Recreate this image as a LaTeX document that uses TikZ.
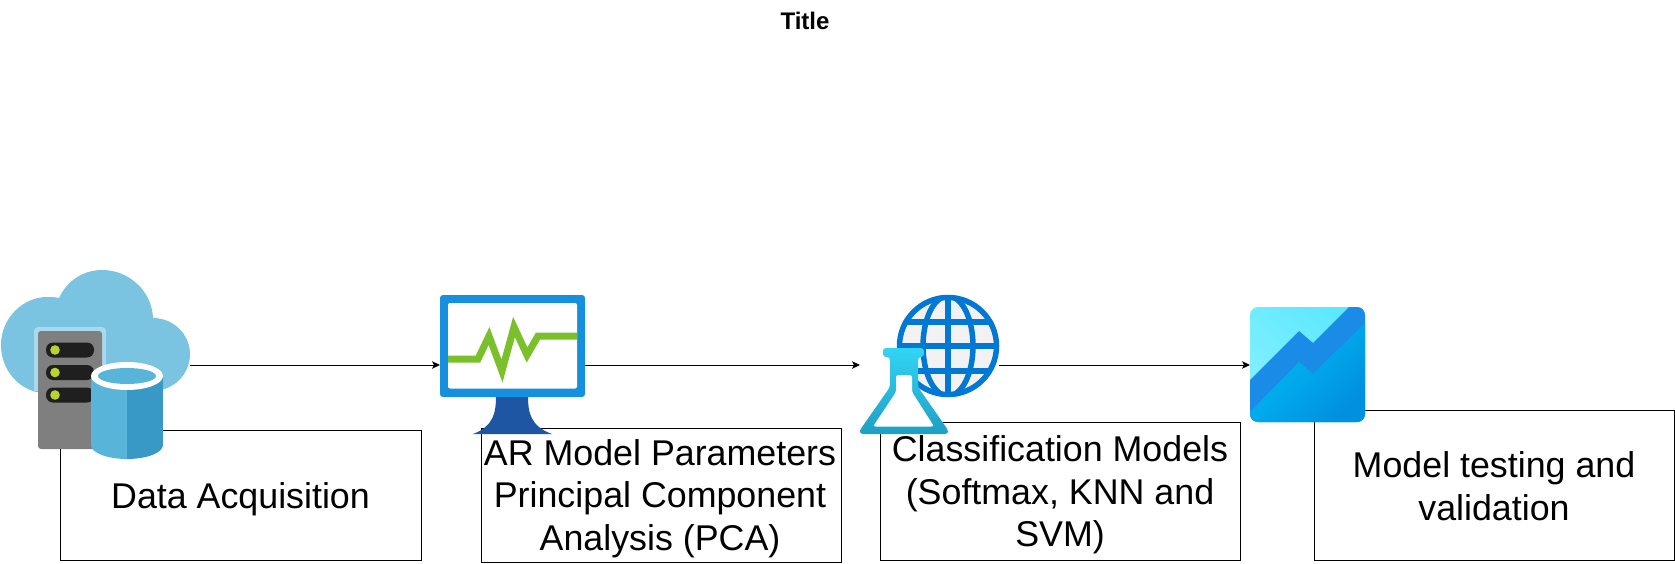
\documentclass[tikz,border=0pt]{standalone}
\usepackage{fontspec}
\setmainfont{Liberation Sans}
\usetikzlibrary{arrows.meta}
\definecolor{cloudc}{HTML}{7AC3E1}
\definecolor{cloudl}{HTML}{A9D9EE}
\definecolor{srv}{HTML}{7F7F7F}
\definecolor{slot}{HTML}{1F1F1F}
\definecolor{led}{HTML}{B8D432}
\definecolor{cyl}{HTML}{59B4D9}
\definecolor{cyld}{HTML}{3999C6}
\definecolor{mon}{HTML}{1490DF}
\definecolor{mond}{HTML}{1F56A3}
\definecolor{pulse}{HTML}{7AC02A}
\definecolor{globec}{HTML}{0078D4}
\definecolor{globel}{HTML}{F2F2F2}
\definecolor{flaskt}{HTML}{32D4F5}
\definecolor{flaskm}{HTML}{2BC4E3}
\definecolor{flaskb}{HTML}{1F9FC4}
\definecolor{chl}{HTML}{84F0FF}
\definecolor{chm}{HTML}{5CE8FF}
\definecolor{chd}{HTML}{1B8BE8}
\definecolor{chb}{HTML}{00BEF5}
\definecolor{chbd}{HTML}{0090E0}
\tikzset{
  x=1pt,y=-1pt,
  labelbox/.style={draw=black,line width=0.8pt,fill=white,inner sep=0pt},
  labeltext/.style={inner sep=0pt,align=center,font=\fontsize{35.8}{42.7}\selectfont},
  flow/.style={draw=black,line width=0.9pt,-{Stealth[length=8pt,width=7.5pt,inset=2pt]}},
  iconspot/.style={inner sep=0pt,outer sep=0pt}
}
\begin{document}
\begin{tikzpicture}
\useasboundingbox (0,0) rectangle (1675,564);
\node[font=\bfseries\fontsize{24}{28}\selectfont] (title) at (805,21) {Title};
% icon footprints, used as connector ends
\node[iconspot,minimum width=190pt,minimum height=190pt] (i1) at (95,365) {};
\node[iconspot,minimum width=145pt,minimum height=139pt] (i2) at (512.5,365) {};
\node[iconspot,minimum width=139pt,minimum height=139pt] (i3) at (929.5,365) {};
\node[iconspot,minimum width=116pt,minimum height=116pt] (i4) at (1308,365) {};
% boxes
\node[labelbox,minimum width=361pt,minimum height=130pt] (b1) at (240.5,495) {};
\node[labeltext] (t1) at ([yshift=-4pt]b1.center) {Data Acquisition};
\node[labelbox,minimum width=360pt,minimum height=134pt] (b2) at (661,495) {};
\node[labeltext] (t2) at ([yshift=-3.5pt,xshift=-1pt]b2.center) {AR Model Parameters\\Principal Component\\Analysis (PCA)};
\node[labelbox,minimum width=360pt,minimum height=138pt] (b3) at (1060,491) {};
\node[labeltext] (t3) at ([yshift=-4pt]b3.center) {Classification Models\\(Softmax, KNN and\\SVM)};
\node[labelbox,minimum width=360pt,minimum height=150pt] (b4) at (1494,485) {};
\node[labeltext] (t4) at ([yshift=-1.5pt]b4.center) {Model testing and\\validation};
% connectors
\draw[flow] (i1.east) -- (i2.west);
\draw[flow] (i2.east) -- (i3.west);
\draw[flow] (i3.east) -- (i4.west);
% icon 1: cloud, server, cylinder
\fill[cloudc] (36,392) .. controls (14,386) and (1,366) .. (1,345) .. controls (1,318) and (23,297) .. (47,297) .. controls (51,297) and (55,297) .. (59,298) .. controls (67,281) and (83,270) .. (102,270) .. controls (129,270) and (152,291) .. (153,318) .. controls (174,318) and (190,335) .. (190,354) .. controls (190,374) and (174,391) .. (152,391) -- cycle;
\begin{scope}
\clip (30,320) rectangle (110,390);
\fill[cloudl,rounded corners=4pt] (34,327) rectangle (106,420);
\end{scope}
\fill[srv,rounded corners=3pt] (38,331) -- (102,331) -- (102,449) -- (38,449) -- cycle;
\foreach \yy in {350,372.5,395}{
  \fill[slot,rounded corners=7pt] (46,\yy-7.5) rectangle (94,\yy+7.5);
  \fill[led] (55,\yy) circle[radius=4.8pt];
}
\fill[cyl] (91,376) rectangle (127,445);
\fill[cyld] (127,376) rectangle (163,445);
\begin{scope}
\clip (91,440) rectangle (127,462);
\fill[cyl] (127,445) ellipse[x radius=36pt,y radius=14pt];
\end{scope}
\begin{scope}
\clip (127,440) rectangle (163,462);
\fill[cyld] (127,445) ellipse[x radius=36pt,y radius=14pt];
\end{scope}
\fill[white] (127,376) ellipse[x radius=36pt,y radius=14pt];
\fill[cyl] (127,376) ellipse[x radius=29pt,y radius=8pt];
% icon 2: monitor
\fill[mond] (496,396) -- (528,396) .. controls (528,412) and (530,426) .. (552,434) -- (473,434) .. controls (494,426) and (496,412) .. (496,396) -- cycle;
\fill[mon,rounded corners=3pt] (440,295) rectangle (585,397);
\fill[white,rounded corners=2pt] (448,303) rectangle (577,388.5);
\draw[pulse,line width=7pt,line join=miter] (448,359) -- (478,359) -- (489,336) -- (502,371) -- (514,327) -- (527,355) -- (538,336) -- (577,336);
% icon 3: globe and flask
\fill[globel] (948,346) circle[radius=50pt];
\begin{scope}
\clip (948,346) circle[radius=51pt];
\draw[globec,line width=5.5pt] (948,346) ellipse[x radius=25pt,y radius=50pt];
\draw[globec,line width=5.5pt] (948,295) -- (948,397);
\draw[globec,line width=5.5pt] (895,322) -- (1001,322) (895,346) -- (1001,346) (895,371) -- (1001,371);
\end{scope}
\draw[globec,line width=5.5pt] (948,346) circle[radius=48.5pt];
\shade[top color=flaskt,middle color=flaskm,bottom color=flaskb,rounded corners=3pt] (883,348) -- (924,348) -- (924,357) -- (918,357) -- (918,387) -- (948,430) -- (948,434) -- (860,434) -- (860,430) -- (890,387) -- (890,357) -- (883,357) -- cycle;
\fill[white,rounded corners=2.5pt] (896,375) -- (912,375) -- (912,392) -- (934,426.5) -- (873,426.5) -- (896,392) -- cycle;
% icon 4: chart
\begin{scope}
\clip[rounded corners=8pt] (1250,307) rectangle (1365,422);
\shade[left color=chl,right color=chm,shading angle=135] (1250,307) rectangle (1365,422);
\fill[chd] (1250,380) -- (1299,331) -- (1313,343) -- (1349,307) -- (1365,307) -- (1365,422) -- (1250,422) -- cycle;
\shade[left color=chb,right color=chbd,shading angle=45] (1250,412) -- (1299,362) -- (1313,374) -- (1365,323) -- (1365,422) -- (1250,422) -- cycle;
\end{scope}
\end{tikzpicture}
\end{document}
